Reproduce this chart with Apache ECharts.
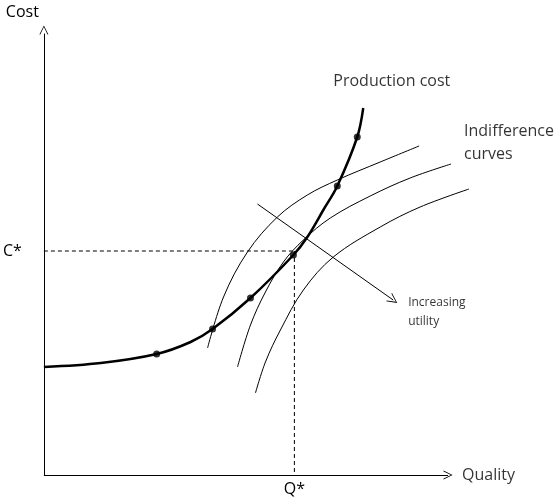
<!DOCTYPE html>
<html>
<head>
<meta charset="utf-8">
<script src="https://cdn.jsdelivr.net/npm/echarts@6/dist/echarts.min.js"></script>
<style>
html,body{margin:0;padding:0;background:#fff;}
#chart{width:559px;height:501px;}
</style>
</head>
<body>
<div id="chart"></div>
<script>
// Production cost curve (Quality, Cost)
var prodQuality = [0, 57, 113, 147, 169, 207, 250, 264, 280, 294, 314, 320];
var prodCost    = [108, 112, 121, 133, 146, 177, 220, 238, 265, 289, 338, 367];
// Marked production points
var dotQuality = [113, 169, 207, 250, 294, 314];
var dotCost    = [121, 146, 177, 220, 289, 338];
// Indifference curves
var ind1Quality = [164, 180, 204, 234, 264, 294, 337, 376];
var ind1Cost    = [127, 178, 223, 258, 280, 295, 313, 329];
var ind2Quality = [194, 207, 222, 240, 260, 287, 327, 367, 408];
var ind2Cost    = [108, 150, 183, 213, 235, 257, 279, 297, 311];
var ind3Quality = [212, 222, 237, 260, 290, 337, 377, 426];
var ind3Cost    = [82, 113, 145, 185, 218, 248, 268, 286];
// Optimum
var qStar = 251;
var cStar = 224;
var optimumQuality = 250;
// Increasing utility arrow (from, to)
var utilityArrowQuality = [214, 350];
var utilityArrowCost    = [271, 175];
// Axis ranges
var qualityAxisEnd = 405;   // where the drawn Quality axis arrow ends
var qualityMax = 437;
var costMax = 441;
// Annotations
var annotationTexts   = ['Production cost', 'Indifference\ncurves', 'Increasing\nutility', 'Quality'];
var annotationQuality = [290, 421, 365, 419];
var annotationCost    = [394, 332, 163, 0];

function zip(xs, ys){ return xs.map(function(x,i){ return [x, ys[i]]; }); }
var chevron = 'path://M0,10 L5,0 L10,10 L9,10 L5,1.8 L1,10 Z';
var FONT = 'Open Sans';
var BIG = 16;

var thin = function(xs, ys){
  return {type:'line', data: zip(xs, ys), smooth: 0.35, showSymbol:false, clip:false,
    lineStyle:{color:'#000', width:1}, silent:true, z:2};
};

var chart = echarts.init(document.getElementById('chart'));
chart.setOption({
  animation:false,
  backgroundColor:'#fff',
  grid:{left:43, right:79, top:34, bottom:26},
  xAxis:{
    type:'value', min:0, max:qualityMax,
    axisLine:{show:false},
    axisTick:{show:false},
    splitLine:{show:false},
    axisLabel:{show:true, customValues:[qStar], formatter:function(){return 'Q*';}, color:'#000', fontSize:BIG, fontFamily:FONT, margin:6}
  },
  yAxis:{
    type:'value', min:0, max:costMax,
    name:'Cost', nameLocation:'end', nameGap:14,
    nameTextStyle:{color:'#000', fontSize:BIG, fontFamily:FONT, align:'right', padding:[0,5,0,0]},
    axisLine:{show:true, symbol:['none', chevron], symbolSize:[9,9], symbolOffset:[0,4], lineStyle:{color:'#000', width:1}},
    axisTick:{show:false},
    splitLine:{show:false},
    axisLabel:{show:true, customValues:[cStar], formatter:function(){return 'C*';}, color:'#000', fontSize:BIG, fontFamily:FONT, margin:22}
  },
  series:[
    thin(ind1Quality, ind1Cost),
    thin(ind2Quality, ind2Cost),
    thin(ind3Quality, ind3Cost),
    {type:'line', data:[[0,cStar],[optimumQuality,cStar]], showSymbol:false, silent:true,
      lineStyle:{color:'#000', width:1, type:[4,3]}},
    {type:'line', data:[[qStar,cStar],[qStar,0]], showSymbol:false, silent:true,
      lineStyle:{color:'#000', width:1, type:[4,3]},
      markLine:{silent:true, symbol:['none', chevron], symbolSize:[9,9],
        label:{show:false}, lineStyle:{color:'#000', width:1, type:'solid'},
        data:[[{coord:[0,0]},{coord:[qualityAxisEnd,0]}]]}},
    {type:'line', data: zip(prodQuality, prodCost), smooth:0.35, showSymbol:false, silent:true, z:3,
      lineStyle:{color:'#000', width:2.5},
      markLine:{silent:true, symbol:['none', chevron], symbolSize:[10,10],
        label:{show:false}, lineStyle:{color:'#000', width:1, type:'solid'},
        data:[[{coord:[utilityArrowQuality[0], utilityArrowCost[0]]},{coord:[utilityArrowQuality[1], utilityArrowCost[1]]}]]}},
    {type:'scatter', data: zip(dotQuality, dotCost), symbolSize:7, silent:true, z:4,
      itemStyle:{color:'#000'}},
    {type:'scatter', silent:true, symbolSize:0, clip:false,
      data: annotationTexts.map(function(t,i){
        var d = {name:t, value:[annotationQuality[i], annotationCost[i]]};
        if (i === 2) { d.label = {fontSize:12, lineHeight:19}; }
        return d;
      }),
      label:{show:true, position:'right', distance:0, formatter:function(p){return p.name;},
        color:'#000', fontFamily:FONT, fontSize:BIG, lineHeight:23},
      labelLayout:{hideOverlap:false}
    }
  ]
});
</script>
</body>
</html>
